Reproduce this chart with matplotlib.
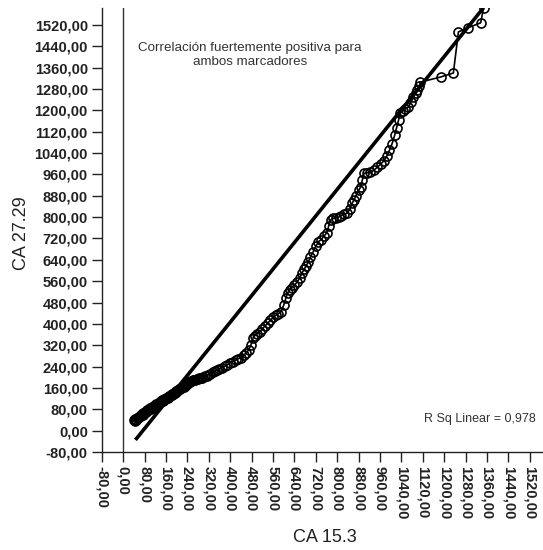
import matplotlib
matplotlib.use("Agg")
import matplotlib.pyplot as plt
import numpy as np

# Data (CA 15.3 vs CA 27.29)
ca153 = [40, 43, 46, 49, 52, 55, 58, 61, 64, 67,
         70, 73, 76, 79, 82, 85, 88, 91, 94, 97,
         100, 103, 106, 109, 112, 115, 118, 121, 124, 127,
         130, 133, 136, 139, 142, 145, 148, 151, 154, 157,
         160, 163, 166, 169, 172, 175, 178, 181, 184, 187,
         190, 193, 196, 199, 202, 206, 210, 214, 218, 222,
         226, 230, 234, 238, 242, 246, 250, 255, 260, 265,
         270, 275, 280, 285, 290, 295, 300,
         306, 312, 318, 326, 335, 344, 352, 360, 370, 380,
         390, 400, 410, 420, 430, 440, 450, 460, 470, 478,
         485, 492, 500, 510, 520, 530, 540, 550, 560, 570,
         580, 590, 600, 608, 615, 622, 630, 640, 650, 660,
         668, 676, 684, 692, 700, 710, 720, 730, 740, 750,
         760, 768, 775, 785, 795, 805, 815, 825, 838, 848,
         856, 863, 870, 880, 888, 894, 900, 912, 924, 936,
         950, 962, 975, 985, 995, 1005, 1015, 1022, 1030, 1036,
         1045, 1055, 1066, 1075, 1085, 1093, 1100, 1106, 1111, 1186,
         1234, 1253, 1287, 1336, 1347]
ca2729 = [40, 38, 43, 41, 46, 47, 52, 50, 56, 58,
          62, 60, 66, 68, 70, 69, 74, 77, 76, 80,
          83, 82, 86, 89, 88, 92, 95, 94, 99, 101,
          100, 105, 107, 106, 110, 113, 112, 116, 118, 117,
          121, 124, 123, 127, 130, 129, 133, 136, 135, 139,
          142, 141, 146, 148, 147, 152, 156, 155, 160, 164,
          163, 169, 172, 175, 180, 182, 184, 186, 188, 189,
          191, 193, 194, 196, 197, 199, 200,
          203, 206, 209, 214, 219, 223, 227, 231, 236, 241,
          247, 254, 259, 264, 269, 274, 282, 292, 304, 322,
          346, 356, 362, 370, 382, 392, 402, 414, 424, 432,
          438, 446, 470, 496, 516, 528, 536, 546, 556, 572,
          590, 604, 618, 632, 650, 670, 690, 708, 716, 728,
          740, 766, 789, 795, 798, 800, 806, 810, 815, 832,
          852, 866, 880, 900, 914, 940, 964, 966, 968, 975,
          987, 998, 1012, 1028, 1050, 1075, 1108, 1135, 1165, 1190,
          1198, 1206, 1212, 1230, 1250, 1264, 1276, 1290, 1306, 1325,
          1340, 1494, 1509, 1528, 1584]

fit_intercept = -92.0
fit_slope = 1.245
r_sq = 0.978

ticks = list(range(-80, 1521, 80))

def fmt(v):
    return f"{v:.2f}".replace(".", ",")

W, H = 543, 550
fig = plt.figure(figsize=(W / 100, H / 100), dpi=100)
ax = fig.add_axes([101.7 / W, 98 / H, 449.6 / W, 444.1 / H])
ax.set_xlim(-80, 1600)
ax.set_ylim(-80, 1584)

x = np.array(ca153, dtype=float)
y = np.array(ca2729, dtype=float)

ax.plot(x, y, color="black", lw=1.2, zorder=3)
ax.plot(x, y, linestyle="none", marker="o", ms=6.5, mfc="none", mec="black",
        mew=1.2, zorder=4)

xf = np.array([x.min() + 6, x.max()])
ax.plot(xf, fit_intercept + fit_slope * xf, color="black", lw=2.6, zorder=5,
        solid_capstyle="butt")

ax.axvline(0, color="#333333", lw=1.0, zorder=1)

for s in ("top", "right"):
    ax.spines[s].set_visible(False)
for s in ("left", "bottom"):
    ax.spines[s].set_color("#222222")
    ax.spines[s].set_linewidth(1.0)

ax.set_xticks(ticks)
ax.set_yticks(ticks)
ax.set_xticklabels([fmt(t) for t in ticks], rotation=-90, va="top", ha="center")
ax.set_yticklabels([fmt(t) for t in ticks])
ax.tick_params(axis="both", direction="out", length=7, width=1.0, color="#222222",
               labelsize=10.5, pad=3)
for lab in ax.get_xticklabels() + ax.get_yticklabels():
    lab.set_fontfamily("Liberation Sans")
    lab.set_fontweight("bold")
    lab.set_color("#222222")

fig.text(325 / W, 1 - 538 / H, "CA 15.3", ha="center", va="center",
         fontsize=13, family="Liberation Sans", color="#222222")
fig.text(21 / W, 1 - 233 / H, "CA 27.29", ha="center", va="center", rotation=90,
         fontsize=13, family="Liberation Sans", color="#222222")

fig.text(250 / W, 1 - 55 / H, "Correlación fuertemente positiva para\nambos marcadores",
         ha="center", va="center", fontsize=9.6, family="Liberation Sans",
         color="#333333", linespacing=1.3)
fig.text(424 / W, 1 - 419 / H, f"R Sq Linear = {r_sq:.3f}".replace(".", ","),
         ha="left", va="center", fontsize=9.0, family="Liberation Sans",
         color="#333333")

fig.savefig("out.png", dpi=100)
